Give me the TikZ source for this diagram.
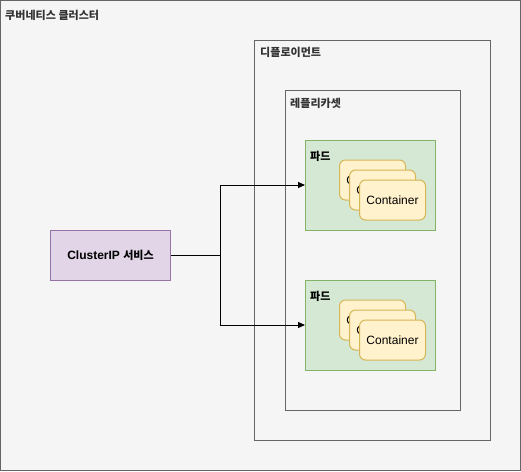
\documentclass[tikz,border=0pt]{standalone}
\usepackage{fontspec}
\setmainfont{Liberation Sans}
\newfontfamily\kr{Noto Sans CJK KR}[Scale=0.92]
\usetikzlibrary{arrows.meta}

\definecolor{boxgray}{HTML}{F5F5F5}
\definecolor{linegray}{HTML}{666666}
\definecolor{textgray}{HTML}{333333}
\definecolor{svcfill}{HTML}{E1D5E7}
\definecolor{svcline}{HTML}{9673A6}
\definecolor{podfill}{HTML}{D5E8D4}
\definecolor{podline}{HTML}{82B366}
\definecolor{ctrfill}{HTML}{FFF2CC}
\definecolor{ctrline}{HTML}{D6B656}

\tikzset{
  area/.style={draw=linegray, fill=boxgray, line width=1pt, inner sep=0pt},
  arealabel/.style={anchor=west, inner sep=0pt, text=textgray,
    font=\fontsize{12}{14}\selectfont\bfseries\kr},
  pod/.style={draw=podline, fill=podfill, line width=1pt, inner sep=0pt,
    minimum width=130pt, minimum height=90pt},
  container/.style={draw=ctrline, fill=ctrfill, line width=1pt, rounded corners=6pt,
    minimum width=66pt, minimum height=40pt, font=\fontsize{12}{14}\selectfont},
  link/.style={line width=1pt, -{Triangle[length=7pt,width=6pt]}}
}

\begin{document}
\begin{tikzpicture}[x=1pt, y=-1pt]
\useasboundingbox (0,0) rectangle (521,471);
% clusters
\node[area, minimum width=520pt, minimum height=470pt] (cluster) at (260.5,235.5) {};
\node[arealabel] (clusterlbl) at (5,15) {쿠버네티스 클러스터};
\node[area, minimum width=236pt, minimum height=400pt] (deploy) at (372.5,240.5) {};
\node[arealabel] (deploylbl) at (260,52) {디플로이먼트};
\node[area, minimum width=175pt, minimum height=320pt] (rs) at (373,250.5) {};
\node[arealabel] (rslbl) at (290,103) {레플리카셋};

% pods
\foreach \name/\y in {podA/185, podB/325} {
  \node[pod] (\name) at (370.5,\y) {};
  \node[anchor=west, inner sep=0pt, font=\fontsize{12}{14}\selectfont\bfseries\kr]
    (\name lbl) at (310,\y-29) {파드};
  \node[container] (\name c1) at (372.5,\y-5) {Container};
  \node[container] (\name c2) at (382.5,\y+5) {Container};
  \node[container] (\name c3) at (392.5,\y+15) {Container};
}

% service
\node[draw=svcline, fill=svcfill, line width=1pt, minimum width=120pt, minimum height=50pt,
  font=\fontsize{12}{14}\selectfont\bfseries] (svc) at (110.5,255.5) {ClusterIP {\kr 서비스}};

\coordinate (split) at (220.5,255.5);
\draw[line width=1pt] (svc.east) -- (split);
\draw[link] (split) |- (podA.west);
\draw[link] (split) |- (podB.west);
\end{tikzpicture}
\end{document}
